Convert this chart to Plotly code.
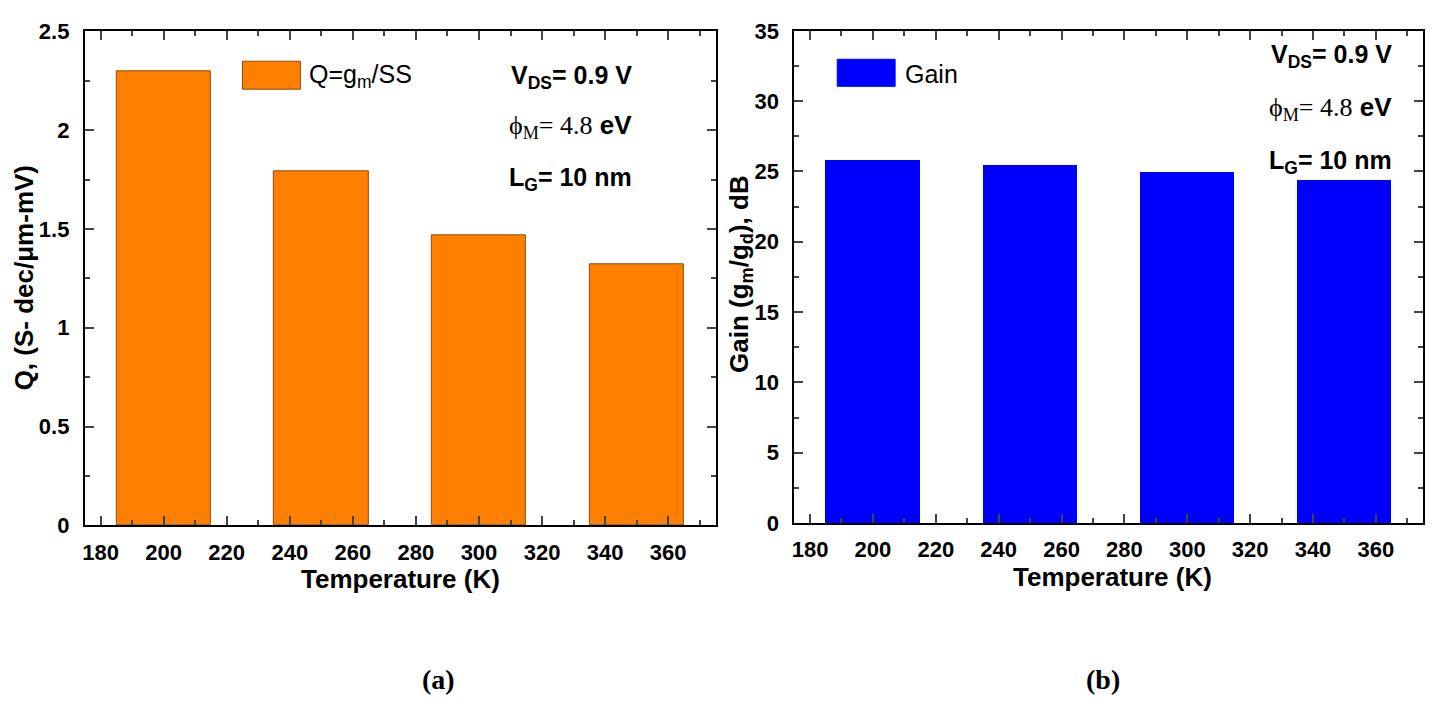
import plotly.graph_objects as go

W, H = 1435, 717

temperature = [200, 250, 300, 350]
q_values = [2.30, 1.79, 1.47, 1.32]
gain_values = [25.85, 25.45, 25.0, 24.4]
x_tick_vals = [180, 200, 220, 240, 260, 280, 300, 320, 340, 360]
q_tick_vals = [0, 0.5, 1, 1.5, 2, 2.5]
q_tick_text = ["<b>0</b>", "<b>0.5</b>", "<b>1</b>", "<b>1.5</b>", "<b>2</b>", "<b>2.5</b>"]
gain_tick_vals = [0, 5, 10, 15, 20, 25, 30, 35]
gain_tick_text = [f"<b>{v}</b>" for v in gain_tick_vals]
x_tick_text = [f"<b>{v}</b>" for v in x_tick_vals]

ORANGE = "#FF8000"
BLUE = "#0000FF"
SANS = "Liberation Sans, Arial"
SERIF = "Liberation Serif, Times New Roman"
TICKFONT = dict(family=SANS, size=22, color="black")


def px(x):
    return x / W


def py(y):
    return 1 - y / H


fig = go.Figure()
fig.add_trace(go.Bar(x=temperature, y=q_values, width=30, marker=dict(color=ORANGE, line=dict(color="#8a4a10", width=1)),
                     xaxis="x", yaxis="y", showlegend=False))
fig.add_trace(go.Bar(x=temperature, y=gain_values, width=30, marker=dict(color=BLUE, line=dict(color=BLUE, width=0)),
                     xaxis="x2", yaxis="y2", showlegend=False))

common_x = dict(range=[175, 375], tickvals=x_tick_vals, ticktext=x_tick_text, ticks="inside", ticklen=9, tickwidth=1.5,
                showline=True, linewidth=2, linecolor="black", mirror="allticks", showgrid=False, zeroline=False,
                tickfont=TICKFONT, minor=dict(ticks="inside", dtick=10, tick0=180, ticklen=5, tickwidth=1.5),
                ticklabelstandoff=6)
common_y = dict(ticks="inside", ticklen=9, tickwidth=1.5, showline=True, linewidth=2, linecolor="black",
                mirror="allticks", showgrid=False, zeroline=False, tickfont=TICKFONT, ticklabelstandoff=9)

fig.update_layout(
    width=W, height=H, margin=dict(l=0, r=0, t=0, b=0),
    paper_bgcolor="white", plot_bgcolor="white", bargap=0,
    xaxis=dict(domain=[px(82), px(714)], anchor="y", **common_x),
    yaxis=dict(domain=[py(532), py(20)], anchor="x", range=[0, 2.5], tickvals=q_tick_vals, ticktext=q_tick_text,
               minor=dict(ticks="inside", dtick=0.25, tick0=0, ticklen=5, tickwidth=1.5), **common_y),
    xaxis2=dict(domain=[px(793), px(1423)], anchor="y2", **common_x),
    yaxis2=dict(domain=[py(529.5), py(19.5)], anchor="x2", range=[0, 35], tickvals=gain_tick_vals,
                ticktext=gain_tick_text,
                minor=dict(ticks="inside", dtick=2.5, tick0=0, ticklen=5, tickwidth=1.5), **common_y),
)

ann = []


def text(x, y, t, size=22, family=SANS, bold=True, xanchor="center", angle=0):
    s = f"<b>{t}</b>" if bold else t
    ann.append(dict(x=px(x), y=py(y), xref="paper", yref="paper", text=s, showarrow=False, xanchor=xanchor,
                    yanchor="middle", textangle=angle, font=dict(family=family, size=size, color="black")))


# axis titles
text(398, 587, "Temperature (K)", size=26)
text(1112, 585, "Temperature (K)", size=26)
text(21, 275, "Q, (S- dec/\u03bcm-mV)", size=26, angle=-90)
text(739, 271, "Gain (g<sub>m</sub>/g<sub>d</sub>), dB", size=26, angle=-90)

# condition annotations
phi = (f'<span style="font-family:{SERIF}">\u03d5<sub>M</sub>= 4.8</span> <b>eV</b>')
for (xr, y1, y2, y3) in [(632, 67, 119, 173), (1394, 46, 100, 155)]:
    text(xr, y1, "V<sub>DS</sub>= 0.9 V", size=25, xanchor="right")
    text(xr, y2, phi, size=26, bold=False, xanchor="right")
    text(xr, y3, "L<sub>G</sub>= 10 nm", size=25, xanchor="right")

# legend text
text(305, 66, "Q=g<sub>m</sub>/SS", size=25, bold=False, xanchor="left")
text(902, 64, "Gain", size=25, bold=False, xanchor="left")

# captions
text(436, 692, "(a)", size=28, family=SERIF)
text(1102, 692, "(b)", size=28, family=SERIF)

fig.update_layout(annotations=ann)

shapes = [
    dict(type="rect", xref="paper", yref="paper", x0=px(240), x1=px(298), y0=py(80), y1=py(51),
         fillcolor=ORANGE, line=dict(color="#8a4a10", width=1)),
    dict(type="rect", xref="paper", yref="paper", x0=px(836), x1=px(894), y0=py(77), y1=py(49),
         fillcolor=BLUE, line=dict(color=BLUE, width=1)),
]
fig.update_layout(shapes=shapes)

fig.write_html("out.html")
